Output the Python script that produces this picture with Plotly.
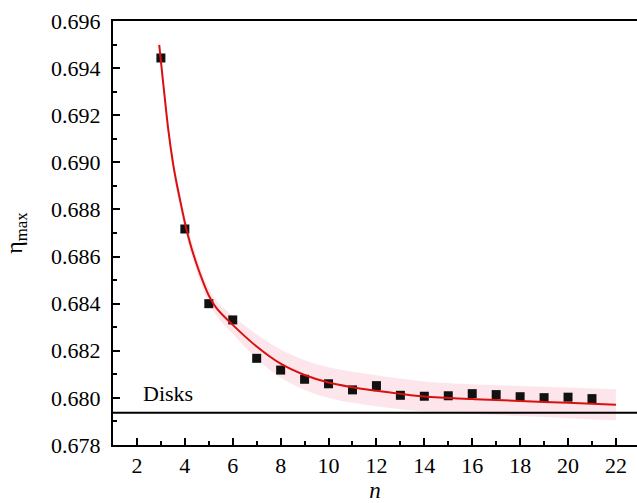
import plotly.graph_objects as go

# measured data points
n_points = [3, 4, 5, 6, 7, 8, 9, 10, 11, 12, 13, 14, 15, 16, 17, 18, 19, 20, 21]
eta_points = [0.69443, 0.68717, 0.68400, 0.68331, 0.68168, 0.68118, 0.68079, 0.68060,
              0.68034, 0.68052, 0.68011, 0.68007, 0.68009, 0.68018, 0.68014, 0.68005,
              0.68001, 0.68003, 0.67997]

# fitted curve
fit_n = [2.93, 3.0, 3.15, 3.31, 3.5, 3.63, 3.82, 4.0, 4.21, 4.5, 4.77, 5.0, 5.33, 6.0,
         7.0, 8.0, 9.0, 10.0, 11.0, 12.0, 13.0, 14.0, 16.0, 18.0, 20.0, 22.0]
fit_eta = [0.69499, 0.69430, 0.69285, 0.69138, 0.69000, 0.68925, 0.68830, 0.68745,
           0.68660, 0.68565, 0.68490, 0.68435, 0.68380, 0.68310, 0.68218, 0.68145,
           0.68097, 0.68065, 0.68045, 0.68030, 0.68017, 0.68006, 0.67995, 0.67987,
           0.67979, 0.67971]
# confidence band half-width along the fit
band_halfwidth = [0.0002, 0.00022, 0.00025, 0.00027, 0.0003, 0.0003, 0.0003, 0.0003,
                  0.0003, 0.0003, 0.0003, 0.0003, 0.00032, 0.00038, 0.00052, 0.0006,
                  0.00063, 0.00065, 0.00066, 0.00066, 0.00065, 0.00064, 0.00063,
                  0.00064, 0.00065, 0.00066]

disks_eta = 0.67937
disks_label = "Disks"

x_ticks = [2, 4, 6, 8, 10, 12, 14, 16, 18, 20, 22]
y_ticks = [0.678, 0.680, 0.682, 0.684, 0.686, 0.688, 0.690, 0.692, 0.694, 0.696]

band_upper = [f + h for f, h in zip(fit_eta, band_halfwidth)]
band_lower = [f - h for f, h in zip(fit_eta, band_halfwidth)]

FONT = "Liberation Serif, Times New Roman, serif"

fig = go.Figure()
fig.add_trace(go.Scatter(x=fit_n, y=band_upper, mode="lines",
                         line=dict(width=0, shape="spline"), hoverinfo="skip",
                         showlegend=False))
fig.add_trace(go.Scatter(x=fit_n, y=band_lower, mode="lines",
                         line=dict(width=0, shape="spline"), fill="tonexty",
                         fillcolor="rgba(250,200,210,0.45)", hoverinfo="skip",
                         showlegend=False))
fig.add_trace(go.Scatter(x=n_points, y=eta_points, mode="markers",
                         marker=dict(symbol="square", size=9, color="#111111"),
                         showlegend=False))
fig.add_trace(go.Scatter(x=fit_n, y=fit_eta, mode="lines",
                         line=dict(color="#d81010", width=2, shape="spline"),
                         showlegend=False))

fig.add_shape(type="line", xref="paper", x0=0, x1=1, yref="y", y0=disks_eta,
              y1=disks_eta, line=dict(color="black", width=2))
fig.add_annotation(x=3.29, y=0.68017, text=disks_label, showarrow=False,
                   font=dict(family=FONT, size=22, color="black"))

fig.update_layout(
    width=637, height=503,
    margin=dict(l=113, r=0, t=21, b=58),
    paper_bgcolor="white", plot_bgcolor="white",
    font=dict(family=FONT, size=22, color="black"),
)
fig.update_xaxes(
    range=[1, 22.88], tickvals=x_ticks, ticktext=[str(v) for v in x_ticks],
    ticks="inside", ticklen=7, tickwidth=1.5, tickcolor="black",
    minor=dict(ticks="inside", ticklen=4, dtick=1, tick0=0, tickwidth=1.5,
               tickcolor="black", showgrid=False),
    showline=True, linewidth=2, linecolor="black", mirror=True,
    showgrid=False, zeroline=False, automargin=False,
    tickfont=dict(family=FONT, size=22),
    title=dict(text="<i>n</i>", font=dict(family=FONT, size=23), standoff=14),
)
fig.update_yaxes(
    range=[0.678, 0.696], tickvals=y_ticks, ticktext=[f"{v:.3f}" for v in y_ticks],
    ticks="inside", ticklen=7, tickwidth=1.5, tickcolor="black",
    minor=dict(ticks="inside", ticklen=4, dtick=0.001, tick0=0.678, tickwidth=1.5,
               tickcolor="black", showgrid=False),
    showline=True, linewidth=2, linecolor="black",
    showgrid=False, zeroline=False, automargin=False, ticklabelstandoff=6,
    tickfont=dict(family=FONT, size=22),
    title=dict(text="η<sub>max</sub>", font=dict(family=FONT, size=24), standoff=22),
)

fig.write_html("out.html")
